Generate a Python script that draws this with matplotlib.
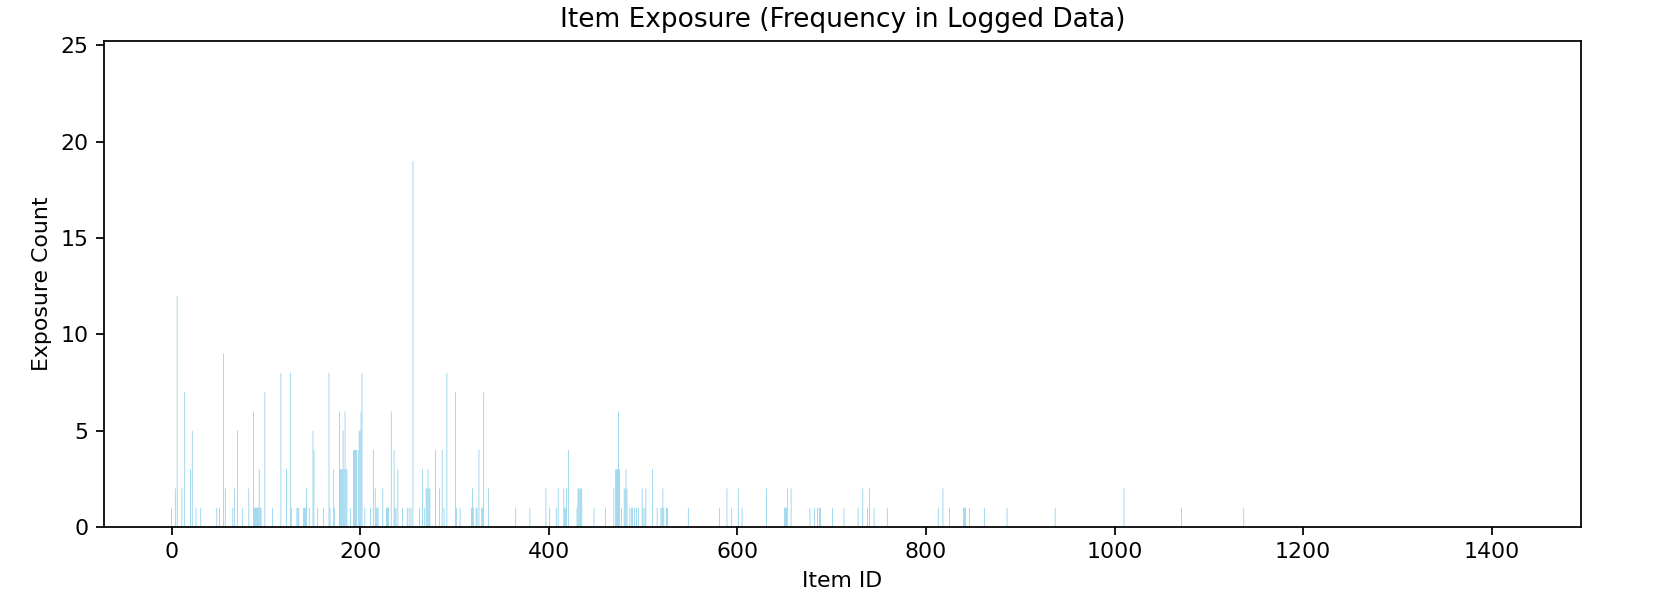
#!/usr/bin/env python3
"""Item exposure bar chart (frequency of each item in logged data)."""

import numpy as np
import matplotlib

matplotlib.use("Agg")
import matplotlib.pyplot as plt

# Number of items in the catalogue (bars run 0 .. N_ITEMS-1, most of them 0)
N_ITEMS = 1424

# Items that appear in the log and how often
item_ids = [
    0, 4, 6, 11, 14, 20, 22, 26, 31, 48, 51, 55, 57, 65, 67, 70, 75, 82,
    87, 88, 89, 90, 91, 92, 93, 94, 95, 99, 107, 116, 122, 126, 127,
    133, 134, 135, 140, 141, 142, 143, 146, 150, 151, 155, 161, 167, 168,
    172, 173, 178, 179, 180, 181, 182, 183, 184, 185, 186, 190,
    193, 194, 195, 196, 198, 199, 200, 201, 202, 205, 211, 214,
    216, 217, 218, 219, 224, 228, 229, 230, 233, 236, 237, 238, 240,
    245, 250, 252, 254, 256, 263, 266, 268, 270, 271, 272, 273, 274,
    280, 284, 287, 289, 292, 301, 302, 306, 318, 319, 320, 323, 324,
    326, 329, 330, 331, 336, 365, 380, 397, 401, 408, 410, 416, 417,
    418, 419, 421, 430, 431, 432, 433, 434, 435, 448, 460, 469, 471,
    472, 473, 474, 475, 477, 480, 481, 482, 483, 486, 488, 489, 491,
    493, 495, 499, 500, 502, 503, 510, 515, 519, 520, 521, 522, 525,
    526, 548, 581, 589, 594, 601, 605, 631, 650, 651, 652, 653, 657,
    677, 682, 685, 687, 688, 701, 713, 728, 733, 738, 740, 745, 759,
    813, 818, 825, 840, 841, 842, 846, 862, 886, 937, 1010, 1071, 1137,
]
exposure_counts = [
    1, 2, 12, 2, 7, 3, 5, 1, 1, 1, 1, 9, 2, 1, 2, 5, 1, 2,
    6, 1, 1, 1, 1, 1, 3, 1, 1, 7, 1, 8, 3, 8, 1,
    1, 1, 1, 1, 1, 1, 2, 1, 5, 4, 1, 1, 8, 1,
    3, 1, 6, 3, 3, 3, 5, 3, 6, 3, 3, 1,
    4, 4, 4, 4, 4, 5, 5, 6, 8, 1, 1, 4,
    2, 1, 1, 1, 2, 1, 1, 1, 6, 4, 1, 1, 3,
    1, 1, 1, 1, 19, 1, 3, 1, 2, 2, 3, 2, 2,
    4, 2, 4, 1, 8, 7, 1, 1, 1, 2, 1, 1, 1,
    4, 1, 1, 7, 2, 1, 1, 2, 1, 1, 2, 2, 1,
    1, 2, 4, 1, 2, 2, 2, 2, 2, 1, 1, 2, 3,
    3, 3, 6, 3, 1, 2, 2, 3, 2, 1, 1, 1, 1,
    1, 1, 2, 1, 1, 2, 3, 1, 1, 1, 2, 1, 1,
    1, 1, 1, 2, 1, 2, 1, 2, 1, 1, 1, 2, 2,
    1, 1, 1, 1, 1, 1, 1, 1, 2, 1, 2, 1, 1,
    1, 2, 1, 1, 1, 1, 1, 1, 1, 1, 2, 1, 1,
]

BAR_COLOR = "skyblue"
DPI = 158


def main() -> None:
    counts = np.zeros(N_ITEMS)
    counts[item_ids] = exposure_counts

    fig = plt.figure(figsize=(1672 / DPI, 616 / DPI), dpi=DPI)
    ax = fig.add_axes([104 / 1672, 1 - 527 / 616, (1581 - 104) / 1672, (527 - 40.5) / 616])

    # bars are < 1 px wide: no snapping, or some of them vanish
    ax.bar(np.arange(N_ITEMS), counts, width=0.8, color=BAR_COLOR, snap=False)
    ax.set_ylim(0, 25.25)

    ax.set_title("Item Exposure (Frequency in Logged Data)", fontsize=12)
    ax.set_xlabel("Item ID")
    ax.set_ylabel("Exposure Count")

    fig.savefig("out.png", dpi=DPI)


if __name__ == "__main__":
    main()
